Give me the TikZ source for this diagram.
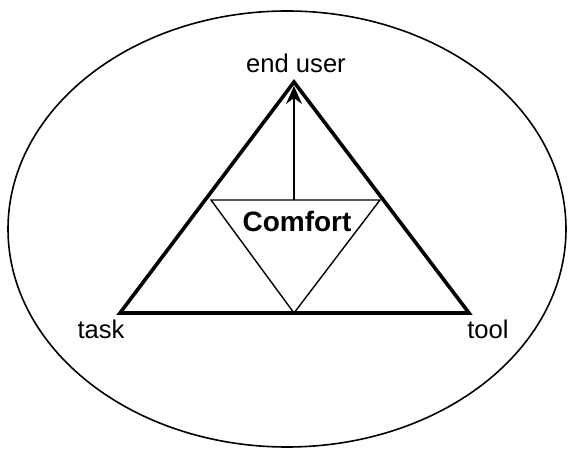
\documentclass[tikz,border=0pt]{standalone}
\usepackage{fontspec}
\setmainfont{Liberation Sans}
\usetikzlibrary{arrows.meta}
\begin{document}
\begin{tikzpicture}[x=0.5pt,y=-0.5pt]
\useasboundingbox (0,0) rectangle (568,454);
\tikzstyle{label}=[font=\fontsize{12.8}{14}\selectfont,inner sep=0pt];
\draw[line width=0.8pt] (287,229) ellipse [x radius=279,y radius=218];
% corners
\coordinate (user) at (294,82);
\coordinate (task) at (120,313);
\coordinate (tool) at (469,313);
\coordinate (l) at (211,200);
\coordinate (r) at (380,200);
\coordinate (b) at (294,313);
\coordinate (m) at (294,200);
\coordinate (tip) at (294,86);
\draw[line width=1.8pt,line join=miter] (user) -- (task) -- (tool) -- cycle;
\draw[line width=0.7pt] (l) -- (r) -- (b) -- cycle;
\draw[line width=1.1pt,-{Stealth[length=9pt,width=8pt,inset=3pt]}] (m) -- (tip);
\node[label] (enduser) at (296,63) {end user};
\node[label] (tasklbl) at (101,329) {task};
\node[label] (toollbl) at (488,329) {tool};
\node[label,font=\fontsize{14}{16}\selectfont\bfseries] (comfort) at (297,221) {Comfort};
\end{tikzpicture}
\end{document}
